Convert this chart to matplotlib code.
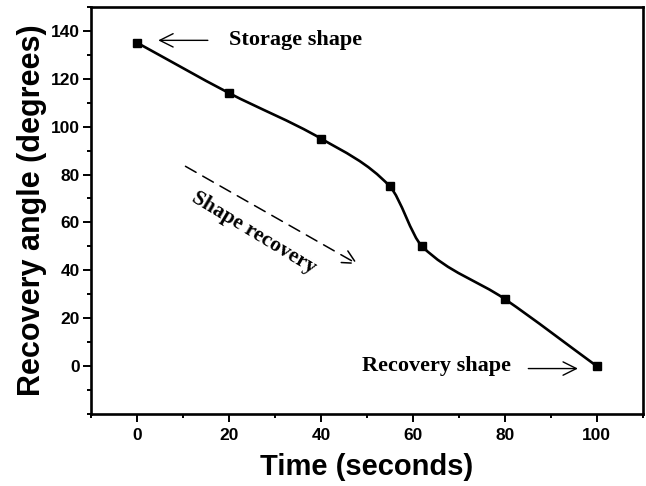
import numpy as np
import matplotlib
matplotlib.use("Agg")
from matplotlib import pyplot as plt
from matplotlib.path import Path
from matplotlib.patches import PathPatch
from matplotlib.ticker import MultipleLocator

time_s = [0, 20, 40, 55, 62, 80, 100]
angle_deg = [135, 114, 95, 75, 50, 28, 0]

x_ticks = [0, 20, 40, 60, 80, 100]
y_ticks = [0, 20, 40, 60, 80, 100, 120, 140]

sans = "Liberation Sans"
serif = "Liberation Serif"

fig = plt.figure(figsize=(6.46, 4.86), dpi=100)
ax = fig.add_axes([0.141, 0.148, 0.854, 0.838])

# smooth line like Origin's spline connect: cubic Hermite segments drawn as Bezier path
x = np.array(time_s, dtype=float)
y = np.array(angle_deg, dtype=float)
m = np.zeros_like(y)
m[0] = (y[1] - y[0]) / (x[1] - x[0])
m[-1] = (y[-1] - y[-2]) / (x[-1] - x[-2])
m[1:-1] = (y[2:] - y[:-2]) / (x[2:] - x[:-2])
verts = [(x[0], y[0])]
codes = [Path.MOVETO]
for i in range(len(x) - 1):
    h = (x[i + 1] - x[i]) / 3.0
    verts += [(x[i] + h, y[i] + h * m[i]),
              (x[i + 1] - h, y[i + 1] - h * m[i + 1]),
              (x[i + 1], y[i + 1])]
    codes += [Path.CURVE4] * 3
ax.add_patch(PathPatch(Path(verts, codes), fill=False, lw=1.9, color="black"))
ax.plot(time_s, angle_deg, ls="none", marker="s", ms=5.5, color="black")

ax.set_xlim(-10, 110)
ax.set_ylim(-20, 150)
ax.set_xticks(x_ticks)
ax.set_yticks(y_ticks)
ax.xaxis.set_minor_locator(MultipleLocator(10))
ax.yaxis.set_minor_locator(MultipleLocator(10))
ax.tick_params(which="major", direction="out", length=6, width=1.4, pad=4)
ax.tick_params(which="minor", direction="out", length=3, width=1.4)
ax.tick_params(axis="y", pad=2)
for lab in ax.get_xticklabels() + ax.get_yticklabels():
    lab.set_fontfamily(sans)
    lab.set_fontweight("bold")
    lab.set_fontsize(12.5)
for sp in ax.spines.values():
    sp.set_linewidth(1.9)

ax.set_xlabel("Time (seconds)", fontfamily=sans, fontweight="bold", fontsize=21, labelpad=7)
ax.set_ylabel("Recovery angle (degrees)", fontfamily=sans, fontweight="bold", fontsize=22, labelpad=3)

ax.annotate("", xy=(4, 136), xytext=(16, 136),
            arrowprops=dict(arrowstyle="->", lw=1.0, color="black", mutation_scale=24))
ax.text(20, 136, "Storage shape", fontfamily=serif, fontweight="bold", fontsize=16,
        ha="left", va="center")

ax.annotate("", xy=(96.5, -1), xytext=(84.5, -1),
            arrowprops=dict(arrowstyle="->", lw=1.0, color="black", mutation_scale=24))
ax.text(49, 0, "Recovery shape", fontfamily=serif, fontweight="bold", fontsize=16,
        ha="left", va="center")

ax.annotate("", xy=(48.5, 42), xytext=(10, 84),
            arrowprops=dict(arrowstyle="->", lw=1.1, ls=(0, (8, 5)), color="black",
                            mutation_scale=24))
ax.text(25.5, 55.5, "Shape recovery", fontfamily=serif, fontweight="bold", fontsize=15.5,
        ha="center", va="center", rotation=-31, rotation_mode="anchor")

fig.savefig("out.png", dpi=100)
